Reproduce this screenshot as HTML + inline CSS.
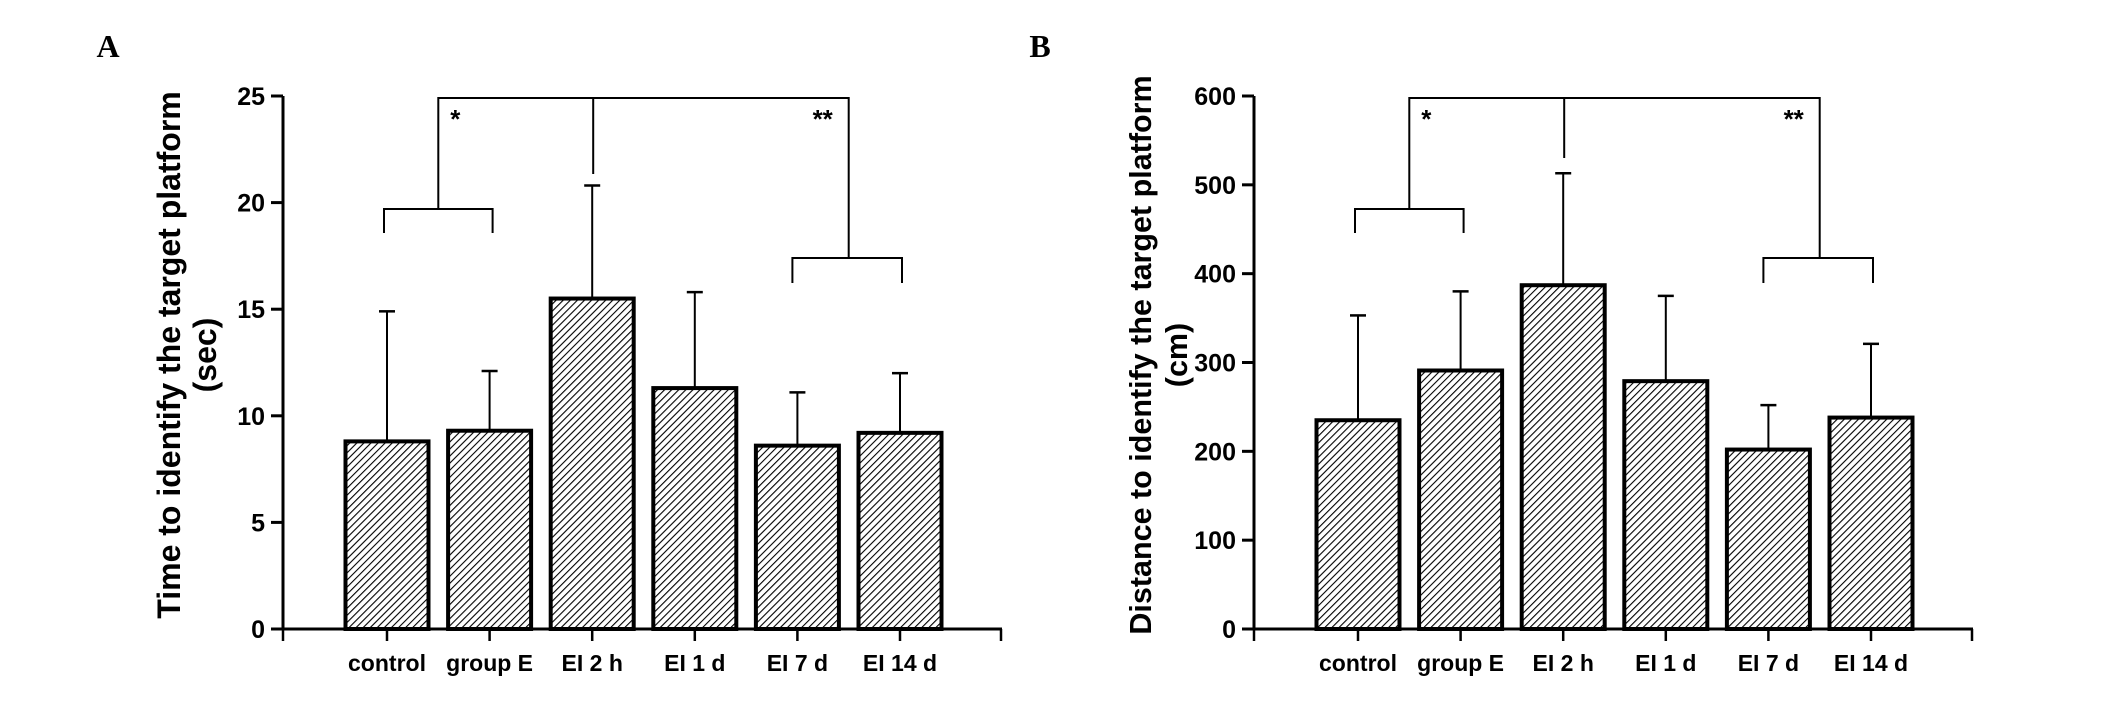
<!DOCTYPE html>
<html><head><meta charset="utf-8"><style>
html,body{margin:0;padding:0;background:#fff;}
svg{display:block;}
text{font-family:"Liberation Sans",Arial,sans-serif;font-weight:bold;fill:#000;}
</style></head><body>
<svg id="fig" width="2127" height="720" viewBox="0 0 2127 720" xmlns="http://www.w3.org/2000/svg">
<defs>
<pattern id="hatch" patternUnits="userSpaceOnUse" width="5" height="5" patternTransform="rotate(45)">
<rect width="5" height="5" fill="#fff"/>
<line x1="0" y1="0" x2="0" y2="5" stroke="#000" stroke-width="2.2"/>
</pattern>
</defs>
<text x="108" y="57" font-size="32" style="font-family:'Liberation Serif',serif" text-anchor="middle">A</text>
<text x="1040" y="57" font-size="32" style="font-family:'Liberation Serif',serif" text-anchor="middle">B</text>
</svg>
<script>
const categories = ["control","group E","EI 2 h","EI 1 d","EI 7 d","EI 14 d"];
const timeMeans = [8.8, 9.3, 15.5, 11.3, 8.6, 9.2];
const timeErrors = [14.9, 12.1, 20.8, 15.8, 11.1, 12.0];
const timeTicks = [0, 5, 10, 15, 20, 25];
const distMeans = [235, 291, 387, 279, 202, 238];
const distErrors = [353, 380, 513, 375, 252, 321];
const distTicks = [0, 100, 200, 300, 400, 500, 600];

const svg = document.getElementById('fig');
const NS = 'http://www.w3.org/2000/svg';
function mk(tag, attrs, parent){
  const e = document.createElementNS(NS, tag);
  for (const k in attrs) e.setAttribute(k, attrs[k]);
  (parent||svg).appendChild(e);
  return e;
}

function drawPanel(ox, yMax, means, errors, ticks, title1, title2, id, titleSize){
  const axisX = 283 + ox, y0 = 629, yTop = 96, xEnd = 1002 + ox;
  const yScale = v => y0 - (v / yMax) * (y0 - yTop);
  const step = 102.6, first = 387 + ox, bw = 83;
  const xC = i => first + i * step;
  const g = mk('g', {});
  
  

  means.forEach((m, i) => {
    const cx = xC(i);
    const eb = mk('line', {x1:cx, x2:cx, y1:yScale(m), y2:yScale(errors[i]), stroke:'#000', 'stroke-width':2}, g);
    
    
    const cap = mk('line', {x1:cx-8, x2:cx+8, y1:yScale(errors[i]), y2:yScale(errors[i]), stroke:'#000', 'stroke-width':2.5}, g);
    
    
    const r = mk('rect', {x:cx-bw/2, y:yScale(m), width:bw, height:y0-yScale(m), fill:'url(#hatch)', stroke:'#000', 'stroke-width':4}, g);
    
    
    const t = mk('text', {x:cx, y:671, 'font-size':23, 'text-anchor':'middle'}, g);
    t.textContent = categories[i];
    
    
  });

  const ya = mk('line', {x1:axisX, x2:axisX, y1:yTop, y2:y0+1.5, stroke:'#000', 'stroke-width':3}, g);
  
  
  ticks.forEach(v => {
    const y = yScale(v);
    const tl = mk('line', {x1:axisX-12, x2:axisX, y1:y, y2:y, stroke:'#000', 'stroke-width':3}, g);
    
    
    const tt = mk('text', {x:axisX-18, y:y+9, 'font-size':25, 'text-anchor':'end'}, g);
    tt.textContent = v;
    
    
  });
  const xa = mk('line', {x1:axisX-1.5, x2:xEnd, y1:y0, y2:y0, stroke:'#000', 'stroke-width':3}, g);
  
  
  for (let i = -1; i <= categories.length; i++){
    const x = i === -1 ? axisX : (i === categories.length ? xEnd - 1 : xC(i));
    const xt = mk('line', {x1:x, x2:x, y1:y0, y2:y0+12, stroke:'#000', 'stroke-width':2.5}, g);
    
    
  }
  const cy = 355;
  const t1 = mk('text', {x:0, y:0, 'font-size':titleSize, 'text-anchor':'middle', transform:`translate(${ox+180},${cy}) rotate(-90)`}, g);
  t1.textContent = title1;
  
  
  const t2 = mk('text', {x:0, y:0, 'font-size':titleSize, 'text-anchor':'middle', transform:`translate(${ox+216},${cy}) rotate(-90)`}, g);
  t2.textContent = title2;
  
  

  const bracketY = 98, smallY = 209, smallDrop = 233, rY = 258, rDrop = 283;
  const lx = (xC(0)+xC(1))/2, rx = (xC(4)+xC(5))/2;
  const path = `M${xC(0)-3},${smallDrop} V${smallY} H${xC(1)+3} V${smallDrop}` +
    ` M${lx},${smallY} V${bracketY} H${rx} V${rY}` +
    ` M${xC(4)-5},${rDrop} V${rY} H${xC(5)+2} V${rDrop}` +
    ` M${xC(2)+1},${bracketY} V${id==='a'?174:158}`;
  const br = mk('path', {d:path, fill:'none', stroke:'#000', 'stroke-width':2}, g);
  
  
  const s1 = mk('text', {x:lx+17, y:128, 'font-size':26, 'text-anchor':'middle'}, g);
  s1.textContent = '*';
  
  
  const s2 = mk('text', {x:rx-26, y:128, 'font-size':26, 'text-anchor':'middle'}, g);
  s2.textContent = '**';
  
  
}

drawPanel(0, 25, timeMeans, timeErrors, timeTicks, 'Time to identify the target platform', '(sec)', 'a', 32);
drawPanel(971, 600, distMeans, distErrors, distTicks, 'Distance to identify the target platform', '(cm)', 'b', 30.5);
</script>
</body></html>
